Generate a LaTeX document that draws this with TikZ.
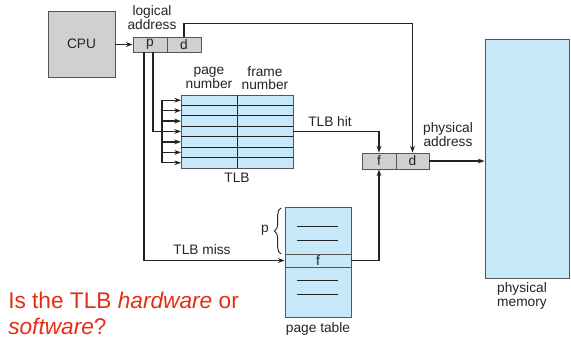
\documentclass[tikz,border=0pt]{standalone}
\usepackage{fontspec}
\setmainfont{Liberation Sans}
\usetikzlibrary{arrows.meta,fit,calc,decorations.pathreplacing}
\definecolor{boxgray}{RGB}{208,208,208}
\definecolor{memblue}{RGB}{198,232,248}
\definecolor{qred}{RGB}{230,45,20}
\definecolor{edgegray}{RGB}{85,85,85}
\definecolor{ink}{RGB}{35,35,35}

\begin{document}
\begin{tikzpicture}[x=0.75pt,y=-0.75pt,
  lbl/.style={font=\fontsize{10.3}{10.3}\selectfont, text=ink, align=center, inner sep=0},
  graybox/.style={draw=edgegray, fill=boxgray, line width=0.7pt, inner sep=0,
                  label={[lbl]center:#1}},
  graybox/.default={},
  bluebox/.style={draw=edgegray, fill=memblue, line width=0.7pt, inner sep=0,
                  label={[lbl]center:#1}},
  bluebox/.default={},
  rowline/.style={draw=ink, line width=0.75pt},
  wire/.style={line width=1.05pt, draw=ink},
  arr/.style={wire, -{Stealth[length=5pt,width=3.6pt]}},
]
\useasboundingbox (0,0) rectangle (571,341);

% processor and logical address
\node[graybox=CPU, fit={(48,11) (115,77)}] (cpu) {};
\node[graybox=p, fit={(133,37) (167,52)}] (p) {};
\node[graybox=d, fit={(167,37) (201,52)}] (d) {};
\node[lbl] (lalbl) at (152,17.5) {logical\\address};

% translation look-aside buffer
\node[bluebox, fit={(181,95) (293,168)}] (tlb) {};
\foreach \k in {1,...,6} {
  \pgfmathsetmacro\yy{95+\k*73/7}
  \draw[rowline] (181,\yy) -- (293,\yy);
}
\draw[rowline] (237,95) -- (237,168);
\foreach \k in {1,...,7} {
  \pgfmathsetmacro\yy{95+(\k-0.5)*73/7}
  \coordinate (row\k) at (181,\yy);
  \coordinate (bus\k) at (162,\yy);
}
\node[lbl] (pnlbl) at (209,78) {page\\number};
\node[lbl] (fnlbl) at (265,78) {frame\\number};
\node[lbl] (tlblbl) at (237,178) {TLB};

% page table
\node[bluebox, fit={(285,207) (351,317)}] (pt) {};
\node[bluebox=f, fit={(285,254) (351,267)}] (frow) {};
\foreach \yy in {227,241,281,295}
  \draw[rowline] (297,\yy) -- (338,\yy);
\draw[decorate, decoration={brace, amplitude=5pt}, line width=0.7pt, draw=ink]
  (281,254) -- (281,208);
\node[lbl] (plbl) at (265,230) {p};
\node[lbl] (ptlbl) at (318,329) {page table};

% physical address and memory
\node[graybox=f, fit={(362,153) (396,169)}] (f) {};
\node[graybox=d, fit={(396,153) (429,169)}] (d2) {};
\node[lbl] (palbl) at (448,134.5) {physical\\address};
\node[bluebox, fit={(485,39) (569.5,278)}] (mem) {};
\node[lbl] (pmlbl) at (522,296) {physical\\memory};

% connectors
\draw[arr] (cpu.east |- p.west) -- (p.west);
\draw[arr] (d.north) -- ++(0,-13) -| (d2.north);
\coordinate (pmiss) at ($(p.south)+(-6,0)$);
\coordinate (phit) at ($(p.south)+(3,0)$);
\draw[wire] (phit) |- (bus4);
\draw[wire] (bus1) -- (bus7);
\foreach \k in {1,...,7} \draw[arr] (bus\k) -- (row\k);
\draw[arr] (tlb.east |- row4) -| (f.north);
\node[lbl] (hitlbl) at (330,122) {TLB hit};
\draw[arr] (pmiss) |- (frow.west);
\node[lbl] (misslbl) at (202,250) {TLB miss};
\draw[arr] (frow.east) -| (f.south);
\draw[arr] (d2.east) -- (d2.east -| mem.west);

% question
\node[anchor=north west, inner sep=0, align=left, text=qred,
      font=\fontsize{17}{19}\selectfont] (q) at (8,292)
  {Is the TLB \textit{hardware} or\\\textit{software}?};
\end{tikzpicture}
\end{document}
